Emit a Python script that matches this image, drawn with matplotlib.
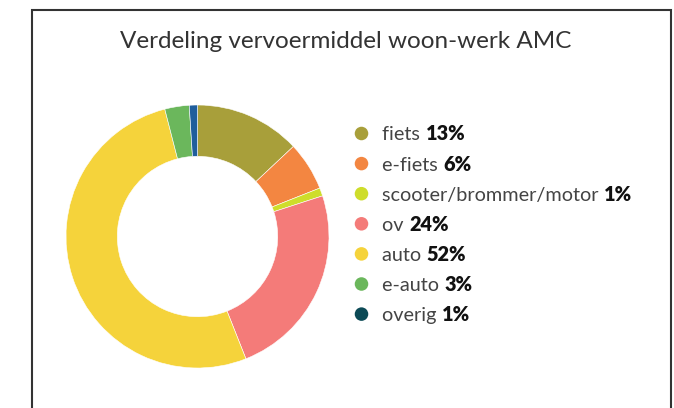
import matplotlib.pyplot as plt
from matplotlib.patches import Rectangle

# data
labels = ['fiets', 'e-fiets', 'scooter/brommer/motor', 'ov', 'auto', 'e-auto', 'overig']
shares = [13, 6, 1, 24, 52, 3, 1]
pie_colors = ['#A89F3A', '#F38641', '#CEDD2B', '#F47B79', '#F5D33B', '#6BB75C', '#1F5E9C']
legend_colors = ['#A89F3A', '#F38641', '#CEDD2B', '#F47B79', '#F5D33B', '#6BB75C', '#0C4A56']
title = 'Verdeling vervoermiddel woon-werk AMC'

plt.rcParams['font.family'] = ['Lato', 'DejaVu Sans']

W, H = 674, 408
fig = plt.figure(figsize=(W / 100, H / 100), dpi=100)
fig.patch.set_facecolor('white')

# frame (bottom edge falls outside the picture)
fig.patches.append(Rectangle((32 / W, -0.05), (671 - 32) / W, (H - 10) / H + 0.05,
                             transform=fig.transFigure, fill=False,
                             edgecolor='#333333', linewidth=1.5))

fig.text(346 / W, 1 - 41 / H, title, ha='center', va='center',
         fontsize=17.5, color='#333333')

# donut
cx, cy, r = 197.5, 236.5, 131.5
ax = fig.add_axes([(cx - r) / W, (H - cy - r) / H, 2 * r / W, 2 * r / H])
ax.pie(shares, colors=pie_colors, startangle=90, counterclock=False,
       wedgeprops=dict(width=0.39, edgecolor='white', linewidth=0.4))
ax.set_xlim(-1, 1)
ax.set_ylim(-1, 1)
ax.set_aspect('equal')
ax.axis('off')

# legend
top, step = 133.5, 30.1
lx = fig.add_axes([0, 0, 1, 1], facecolor='none')
lx.set_xlim(0, W)
lx.set_ylim(H, 0)
lx.axis('off')
for i, (lab, val, col) in enumerate(zip(labels, shares, legend_colors)):
    y = top + i * step
    lx.scatter([361.5], [y], s=95, color=col, edgecolors='none')
    t = lx.text(382.5, y, lab + ' ', ha='left', va='center_baseline',
                fontsize=14.3, color='#444444')
    lx.annotate(f'{val}%', xy=(1, 0), xycoords=t, va='bottom', ha='left',
                fontsize=14.3, color='#111111', fontweight='heavy')

fig.savefig('out.png', dpi=100)
